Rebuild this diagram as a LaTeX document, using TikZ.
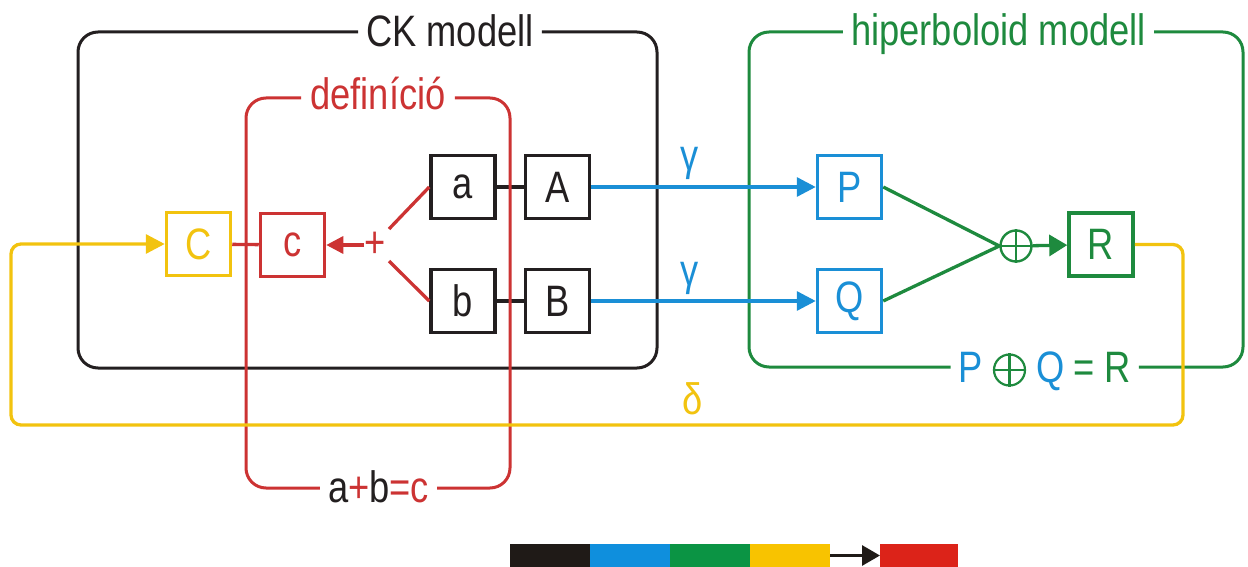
\documentclass[tikz,border=0pt]{standalone}
\usepackage{fontspec}
\setmainfont{Liberation Sans}[FakeStretch=0.825]
\usetikzlibrary{arrows.meta}
\definecolor{ckblack}{HTML}{231F20}
\definecolor{ckblue}{HTML}{1A8FD6}
\definecolor{ckgreen}{HTML}{1E8A3E}
\definecolor{ckyellow}{HTML}{F2C30F}
\definecolor{ckred}{HTML}{CC3333}
\definecolor{barblack}{HTML}{1F1A17}
\definecolor{barblue}{HTML}{0F8FDD}
\definecolor{bargreen}{HTML}{0B9444}
\definecolor{baryellow}{HTML}{F8C300}
\definecolor{barred}{HTML}{DC2319}
\newcommand\ckbigfont{\fontsize{44}{48}\selectfont}
\begin{document}
\begin{tikzpicture}[x=1pt,y=-1pt,
  frame/.style={line width=3pt, rounded corners=20pt},
  box/.style={draw, line width=3.5pt, minimum width=64pt, minimum height=63pt, inner sep=0pt, font=\ckbigfont},
  lbl/.style={font=\ckbigfont, inner xsep=8pt, inner ysep=0pt, anchor=base},
  txt/.style={font=\ckbigfont, inner sep=0pt},
  conn/.style={line width=3.3pt},
  arr/.style={-{Triangle[length=19pt,width=19pt]}},
  oplusnode/.style={circle, draw=ckgreen, line width=2.4pt, minimum size=31pt, inner sep=0pt},
  barnode/.style={minimum width=80pt, minimum height=23pt, inner sep=0pt, outer sep=0pt}
]
\useasboundingbox (0,0) rectangle (1248,567);

% ---------- boxes ----------
\node[box, draw=ckyellow, text=ckyellow] (C) at (198.5,244) {C};
\node[box, draw=ckred, text=ckred] (c) at (292.5,245) {c};
\node[box, draw=ckblack, text=ckblack] (a) at (463,187) {a};
\node[box, draw=ckblack, text=ckblack] (A) at (557.5,187) {A};
\node[box, draw=ckblack, text=ckblack] (b) at (463,301) {b};
\node[box, draw=ckblack, text=ckblack] (B) at (557.5,301) {B};
\node[box, draw=ckblue, text=ckblue] (P) at (849.5,187) {P};
\node[box, draw=ckblue, text=ckblue] (Q) at (849.5,301) {Q};
\node[box, draw=ckgreen, text=ckgreen] (R) at (1101,244.5) {R};
\node[oplusnode] (op) at (1016,246) {};
\draw[ckgreen, line width=2.4pt] (op.north) -- (op.south) (op.west) -- (op.east);
\node[txt, text=ckred, font=\fontsize{44}{44}\selectfont] (plus) at (375,245) {+};

% ---------- frame labels ----------
\node[lbl, text=ckblack] (ck) at (450,47) {CK modell};
\node[lbl, text=ckgreen] (hb) at (998.5,46) {hiperboloid modell};
\node[lbl, text=ckred, inner xsep=9pt] (def) at (378,110) {definíció};
\node[lbl, text=ckblack] (abc) at (378.5,502) {a\textcolor{ckred}{+}b\textcolor{ckred}{=c}};
\node[lbl, text=ckblue] (lP) at (971,382) {P};
\node[oplusnode, line width=2.2pt, minimum size=31pt] (lO) at (1009.5,370) {};
\draw[ckgreen, line width=2.2pt] (lO.north) -- (lO.south) (lO.west) -- (lO.east);
\node[lbl, text=ckblue, inner xsep=0pt] (lQ) at (1050.5,382) {Q};
\node[lbl, text=ckgreen] (lR) at (1102,382) {= R};
\node[txt, text=ckblue] (g1) at (690,163) {γ};
\node[txt, text=ckblue] (g2) at (690,278) {γ};
\node[txt, text=ckyellow] (dl) at (693,399) {δ};

% ---------- frames ----------
\coordinate (kt) at (0,32);
\coordinate (kb) at (0,368);
\draw[frame, ckblack] (ck.east |- kt) -- (657,32) -- (657,368) -- (78,368) -- (78,32) -- (ck.west |- kt);
\coordinate (gt) at (0,32);
\coordinate (gb) at (0,367);
\draw[frame, ckgreen] (hb.east |- gt) -- (1243,32) -- (1243,367) -- (lR.east |- gb);
\draw[frame, ckgreen] (lP.west |- gb) -- (749,367) -- (749,32) -- (hb.west |- gt);

% ---------- black connectors ----------
\draw[conn, ckblack] (a) -- (A);
\draw[conn, ckblack] (b) -- (B);

% ---------- red frame ----------
\coordinate (rt) at (0,98);
\coordinate (rb) at (0,488);
\draw[frame, ckred] (def.east |- rt) -- (510,98) -- (510,488) -- (abc.east |- rb);
\draw[frame, ckred] (abc.west |- rb) -- (246,488) -- (246,98) -- (def.west |- rt);

% ---------- yellow loop ----------
\coordinate (yr) at (1183,425);
\coordinate (yl) at (11,425);
\draw[conn, ckyellow, rounded corners=10pt, arr] (R.east) -| (yr) -- (yl) |- (C.west);

% ---------- red connectors ----------
\draw[conn, ckred] (C) -- (c);
\coordinate (pa) at (389,229);
\coordinate (pb) at (389,261);
\draw[conn, ckred] (pa) -- (a.west);
\draw[conn, ckred] (pb) -- (b.west);
\draw[conn, ckred, -{Triangle[length=17pt,width=17pt]}] (plus.west) -- (c.east);

% ---------- blue and green connectors ----------
\draw[conn, ckblue, arr] (A) -- (P);
\draw[conn, ckblue, arr] (B) -- (Q);
\draw[conn, ckgreen] (P.east) -- (op.west);
\draw[conn, ckgreen] (Q.east) -- (op.west);
\draw[conn, ckgreen, -{Triangle[length=18pt,width=21pt]}] (op) -- (R);

% ---------- colour bar ----------
\node[barnode, fill=barblack] (k1) at (550,555.5) {};
\node[barnode, fill=barblue] (k2) at (630,555.5) {};
\node[barnode, fill=bargreen] (k3) at (710,555.5) {};
\node[barnode, fill=baryellow] (k4) at (790,555.5) {};
\node[barnode, fill=barred, minimum width=78pt] (k5) at (919,555.5) {};
\draw[line width=3pt, barblack, -{Triangle[length=18pt,width=20pt]}] (k4) -- (k5);
\end{tikzpicture}
\end{document}
